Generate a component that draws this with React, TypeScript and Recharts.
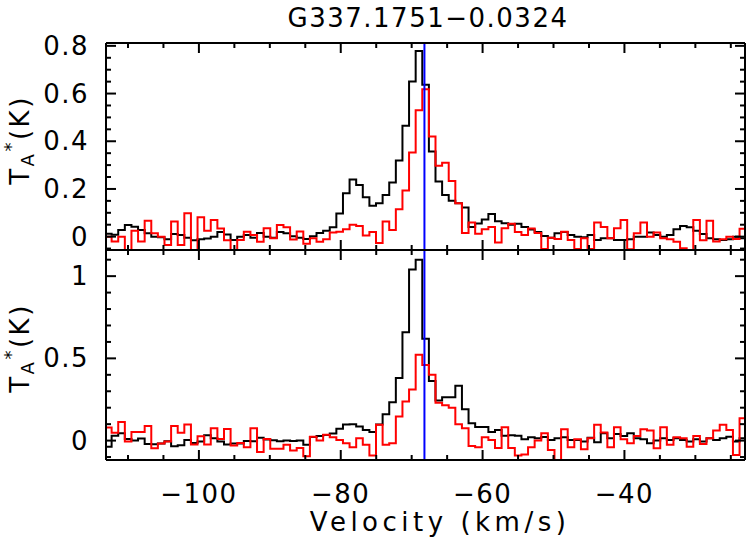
import React from 'react';
import { LineChart, Line, XAxis, YAxis, ReferenceLine, Label } from 'recharts';

// ---- channel grid (km/s) ----
const V_START = -113.24; // left edge of first channel
const DV = 0.932; // channel width
const X_DOMAIN: [number, number] = [-113.1, -23.0];
const V_LSR = -68.2;
const TITLE = 'G337.1751\u22120.0324';

// ---- spectra (T_A*, K), one value per channel ----
const topBlack = [
  0.012, 0.008, 0.028, 0.049, 0.042, 0.028, 0.014, 0.0, -0.003, -0.011,
  0.011, 0.007, -0.005, -0.015, -0.011, -0.008, 0.0, 0.019, 0.009, -0.014,
  0.0, 0.007, -0.005, 0.015, 0.0, -0.005, 0.02, 0.014, 0.002, -0.005,
  -0.01, 0.002, 0.015, 0.025, 0.039, 0.097, 0.182, 0.24, 0.217, 0.165,
  0.13, 0.14, 0.175, 0.227, 0.319, 0.465, 0.651, 0.778, 0.637, 0.357,
  0.231, 0.175, 0.15, 0.14, 0.122, 0.04, 0.055, 0.072, 0.095, 0.065,
  0.056, 0.05, 0.054, 0.04, 0.03, 0.02, 0.003, -0.005, 0.014, 0.02,
  0.007, 0.0, -0.003, 0.007, -0.014, -0.007, -0.007, -0.014, -0.014, -0.011,
  0.0, 0.0, 0.017, 0.007, 0.0, 0.007, 0.031, 0.045, 0.039, 0.025,
  0.011, -0.007, -0.011, -0.014, -0.011, 0.0, -0.007,
];
const topRed = [
  0.0, -0.02, 0.0, -0.06, 0.025, -0.02, 0.067, 0.014, 0.0, -0.035,
  0.063, -0.035, 0.098, -0.06, 0.081, 0.025, 0.07, 0.034, -0.015, -0.06,
  -0.014, 0.021, 0.007, -0.021, 0.035, -0.007, 0.049, 0.039, -0.012, 0.022,
  -0.03, -0.007, -0.021, -0.011, 0.017, 0.021, 0.031, 0.05, 0.045, 0.005,
  0.02, -0.027, 0.063, 0.028, 0.115, 0.193, 0.353, 0.53, 0.618, 0.42,
  0.297, 0.31, 0.233, 0.14, 0.015, 0.059, 0.012, 0.031, 0.04, -0.025,
  0.035, 0.054, 0.02, 0.007, 0.034, 0.015, -0.052, -0.005, -0.01, 0.021,
  -0.014, -0.052, -0.007, -0.052, 0.059, 0.04, -0.007, 0.035, 0.07, -0.053,
  0.014, 0.059, 0.0, 0.017, -0.007, -0.011, -0.021, -0.049, -0.06, 0.07,
  -0.015, 0.067, -0.02, -0.011, 0.0, -0.01, 0.033,
];
const botBlack = [
  -0.037, 0.03, 0.045, 0.01, 0.0, 0.012, -0.02, -0.022, -0.018, -0.004,
  -0.035, -0.028, 0.004, -0.014, -0.006, 0.032, 0.015, -0.006, -0.023, -0.018,
  -0.018, -0.002, -0.004, 0.018, 0.006, 0.002, -0.004, 0.0, -0.003, 0.0,
  -0.026, 0.022, 0.028, 0.034, 0.043, 0.072, 0.098, 0.1, 0.086, 0.065,
  0.052, 0.098, 0.16, 0.233, 0.38, 0.659, 1.04, 1.1, 0.62, 0.362,
  0.244, 0.264, 0.264, 0.333, 0.19, 0.106, 0.083, 0.083, 0.052, 0.065,
  0.03, 0.032, 0.03, 0.008, 0.02, 0.014, 0.022, 0.004, 0.014, 0.02,
  0.004, 0.004, -0.006, 0.018, -0.01, 0.045, 0.014, 0.04, 0.028, 0.045,
  0.014, 0.008, -0.016, 0.0, 0.014, 0.004, 0.014, 0.004, -0.006, 0.008,
  -0.006, 0.014, 0.004, 0.014, 0.024, -0.006, 0.014,
];
const botRed = [
  0.08, 0.047, 0.113, -0.006, 0.052, 0.052, 0.089, -0.047, -0.018, -0.006,
  0.089, 0.048, 0.098, -0.023, 0.026, -0.023, 0.075, 0.01, 0.07, -0.03,
  -0.015, -0.04, 0.075, -0.07, 0.01, -0.05, -0.05, -0.026, -0.06, -0.045,
  -0.095, 0.024, 0.0, 0.035, 0.02, 0.004, -0.016, -0.04, 0.014, -0.026,
  -0.09, 0.096, -0.026, -0.016, 0.146, 0.238, 0.31, 0.522, 0.46, 0.4,
  0.23, 0.215, 0.2, 0.1, 0.075, -0.033, -0.04, 0.02, 0.004, -0.045,
  0.081, -0.045, -0.09, -0.085, -0.04, 0.0, 0.045, -0.057, -0.125, 0.069,
  -0.04, 0.008, -0.053, 0.014, 0.096, 0.049, -0.04, 0.081, 0.008, -0.016,
  0.028, 0.069, 0.061, -0.047, 0.081, -0.026, 0.02, 0.014, -0.037, 0.028,
  -0.02, 0.014, 0.061, 0.096, 0.065, -0.087, 0.136,
];

// ---- ticks ----
const xTicks = [-110, -105, -100, -95, -90, -85, -80, -75, -70, -65, -60, -55, -50, -45, -40, -35, -30, -25];
const xLabels = [-100, -80, -60, -40];
const topYTicks = [-0.05, 0, 0.05, 0.1, 0.15, 0.2, 0.25, 0.3, 0.35, 0.4, 0.45, 0.5, 0.55, 0.6, 0.65, 0.7, 0.75, 0.8];
const topYLabels = [0, 0.2, 0.4, 0.6, 0.8];
const botYTicks = [-0.1, 0, 0.1, 0.2, 0.3, 0.4, 0.5, 0.6, 0.7, 0.8, 0.9, 1.0, 1.1];
const botYLabels = [0, 0.5, 1];
const TOP_Y_DOMAIN: [number, number] = [-0.056, 0.812];
const BOT_Y_DOMAIN: [number, number] = [-0.118, 1.159];

const FONT = "'DejaVu Sans', sans-serif";
const MAJOR = 10;
const MINOR = 5;
const W = 747;
const H = 546;

const fmt = (v: number) => (v < 0 ? '\u2212' + String(Math.abs(v)) : String(v));
const isIn = (list: number[], v: number) => list.some((l) => Math.abs(l - v) < 1e-9);

function buildRows(black: number[], red: number[]) {
  const rows = black.map((b, i) => ({ v: V_START + i * DV, black: b, red: red[i] }));
  rows.push({ v: V_START + black.length * DV, black: black[black.length - 1], red: red[red.length - 1] });
  return rows;
}

function makeXTick(dir: number, showLabel: boolean) {
  return (props: any) => {
    const { x, y, payload } = props;
    const v = payload.value as number;
    const major = isIn(xLabels, v);
    const len = major ? MAJOR : MINOR;
    return (
      <g>
        <line x1={x} y1={y} x2={x} y2={y + dir * len} stroke="#000" strokeWidth={2} />
        {showLabel && major ? (
          <text x={x} y={y + 34} textAnchor="middle" dominantBaseline="central" fontSize={26} fontFamily={FONT} letterSpacing={1.5} fill="#000">
            {fmt(v)}
          </text>
        ) : null}
      </g>
    );
  };
}

function makeLeftTick(labels: number[]) {
  return (props: any) => {
    const { x, y, payload } = props;
    const v = payload.value as number;
    const major = isIn(labels, v);
    const len = major ? MAJOR : MINOR;
    return (
      <g>
        <line x1={x} y1={y} x2={x + len} y2={y} stroke="#000" strokeWidth={2} />
        {major ? (
          <text x={x - 17} y={y} textAnchor="end" dominantBaseline="central" fontSize={26} fontFamily={FONT} letterSpacing={1.5} fill="#000">
            {fmt(v)}
          </text>
        ) : null}
      </g>
    );
  };
}

function makeRightTick(labels: number[]) {
  return (props: any) => {
    const { x, y, payload } = props;
    const v = payload.value as number;
    const len = isIn(labels, v) ? MAJOR : MINOR;
    return <line x1={x} y1={y} x2={x - len} y2={y} stroke="#000" strokeWidth={2} />;
  };
}

function yTitle(cx: number, cy: number) {
  return () => (
    <text
      x={cx}
      y={cy}
      transform={`rotate(-90, ${cx}, ${cy})`}
      textAnchor="middle"
      dominantBaseline="central"
      fontSize={26}
      fontFamily={FONT}
      fill="#000"
      letterSpacing={2.5}
    >
      T
      <tspan fontSize={18} dy={7}>A</tspan>
      <tspan fontSize={18} dy={-17}>*</tspan>
      <tspan dy={10}>(K)</tspan>
    </text>
  );
}

interface PanelProps {
  rows: { v: number; black: number; red: number }[];
  yDomain: [number, number];
  yTicks: number[];
  yLabels: number[];
  top: number;
  bottom: number;
  bottomLabels: boolean;
  titleY: number;
}

function Panel({ rows, yDomain, yTicks, yLabels, top, bottom, bottomLabels, titleY }: PanelProps) {
  const axisLine = { stroke: '#000', strokeWidth: 2 };
  const margin = { top: top - 1, right: 1, bottom: H - bottom - 1, left: 105 };
  return (
    <LineChart width={W} height={H} data={rows} margin={margin} style={{ position: 'absolute', left: 0, top: 0 }}>
      <XAxis
        xAxisId="b"
        dataKey="v"
        type="number"
        domain={X_DOMAIN}
        allowDataOverflow
        ticks={xTicks}
        interval={0}
        height={1}
        tickSize={0}
        tickMargin={0}
        tickLine={false}
        axisLine={axisLine}
        tick={makeXTick(-1, bottomLabels)}
        orientation="bottom"
      />
      <XAxis
        xAxisId="t"
        dataKey="v"
        type="number"
        domain={X_DOMAIN}
        allowDataOverflow
        ticks={xTicks}
        interval={0}
        height={1}
        tickSize={0}
        tickMargin={0}
        tickLine={false}
        axisLine={axisLine}
        tick={makeXTick(1, false)}
        orientation="top"
      />
      <YAxis
        yAxisId="l"
        type="number"
        domain={yDomain}
        allowDataOverflow
        ticks={yTicks}
        interval={0}
        width={1}
        tickSize={0}
        tickMargin={0}
        tickLine={false}
        axisLine={axisLine}
        tick={makeLeftTick(yLabels)}
        orientation="left"
      >
        <Label content={yTitle(20, titleY)} />
      </YAxis>
      <YAxis
        yAxisId="r"
        type="number"
        domain={yDomain}
        allowDataOverflow
        ticks={yTicks}
        interval={0}
        width={1}
        tickSize={0}
        tickMargin={0}
        tickLine={false}
        axisLine={axisLine}
        tick={makeRightTick(yLabels)}
        orientation="right"
      />
      <Line
        xAxisId="b"
        yAxisId="l"
        dataKey="black"
        type="stepAfter"
        stroke="#000"
        strokeWidth={2}
        dot={false}
        activeDot={false}
        isAnimationActive={false}
      />
      <Line
        xAxisId="t"
        yAxisId="r"
        dataKey="red"
        type="stepAfter"
        stroke="#ff0000"
        strokeWidth={2}
        dot={false}
        activeDot={false}
        isAnimationActive={false}
      />
      <ReferenceLine xAxisId="b" yAxisId="l" x={V_LSR} stroke="#0000ff" strokeWidth={2} />
    </LineChart>
  );
}

export default function App() {
  const topRows = buildRows(topBlack, topRed);
  const botRows = buildRows(botBlack, botRed);
  return (
    <div style={{ position: 'absolute', left: 0, top: 0, width: W, height: H, background: '#fff', overflow: 'hidden' }}>
      <div
        style={{
          position: 'absolute',
          left: 0,
          top: 3,
          width: 856,
          textAlign: 'center',
          fontFamily: FONT,
          fontSize: 26,
          letterSpacing: 1.5,
          lineHeight: '30px',
          color: '#000',
        }}
      >
        {TITLE}
      </div>
      <Panel
        rows={topRows}
        yDomain={TOP_Y_DOMAIN}
        yTicks={topYTicks}
        yLabels={topYLabels}
        top={43}
        bottom={250}
        bottomLabels={false}
        titleY={140}
      />
      <Panel
        rows={botRows}
        yDomain={BOT_Y_DOMAIN}
        yTicks={botYTicks}
        yLabels={botYLabels}
        top={250}
        bottom={460}
        bottomLabels={true}
        titleY={348}
      />
      <div
        style={{
          position: 'absolute',
          left: 0,
          top: 507,
          width: 880,
          textAlign: 'center',
          fontFamily: FONT,
          fontSize: 26,
          letterSpacing: 4.5,
          lineHeight: '30px',
          color: '#000',
        }}
      >
        Velocity (km/s)
      </div>
    </div>
  );
}
